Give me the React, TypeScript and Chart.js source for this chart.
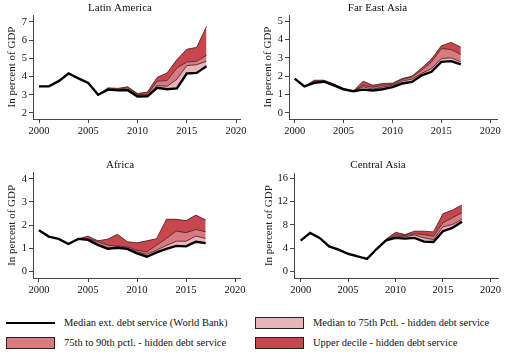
import React, { useEffect, useRef } from 'react';
import { Chart, registerables } from 'chart.js';

Chart.register(...registerables);
Chart.defaults.font.family = "'Liberation Serif', 'DejaVu Serif', serif";

// ---- data ----
const years = [2000, 2001, 2002, 2003, 2004, 2005, 2006, 2007, 2008, 2009, 2010, 2011, 2012, 2013, 2014, 2015, 2016, 2017];
const xTicks = [2000, 2005, 2010, 2015, 2020];

const latMedian = [3.46, 3.46, 3.75, 4.17, 3.9, 3.65, 3.0, 3.28, 3.24, 3.25, 2.9, 2.91, 3.38, 3.3, 3.35, 4.17, 4.2, 4.56];
const latP75 = [null, null, null, null, null, null, 3.0, 3.3, 3.27, 3.29, 2.96, 2.96, 3.5, 3.47, 3.85, 4.6, 4.65, 4.84];
const latP90 = [null, null, null, null, null, null, 3.0, 3.33, 3.3, 3.38, 3.02, 3.02, 3.75, 3.78, 4.47, 4.8, 4.84, 5.16];
const latTop = [null, null, null, null, null, null, 3.0, 3.38, 3.35, 3.44, 3.07, 3.15, 3.96, 4.2, 4.93, 5.5, 5.6, 6.75];
const latTicks = [2, 3, 4, 5, 6, 7];

const feaMedian = [1.87, 1.44, 1.64, 1.7, 1.5, 1.29, 1.18, 1.27, 1.22, 1.29, 1.4, 1.6, 1.69, 2.05, 2.24, 2.78, 2.82, 2.64];
const feaP75 = [null, 1.44, 1.68, 1.73, 1.53, 1.3, 1.18, 1.42, 1.3, 1.4, 1.5, 1.73, 1.84, 2.15, 2.42, 2.96, 3.0, 2.78];
const feaP90 = [null, 1.44, 1.72, 1.75, 1.55, 1.31, 1.18, 1.5, 1.4, 1.5, 1.56, 1.82, 1.95, 2.33, 2.78, 3.5, 3.45, 3.18];
const feaTop = [null, 1.44, 1.78, 1.78, 1.58, 1.32, 1.18, 1.73, 1.51, 1.6, 1.62, 1.87, 2.0, 2.45, 2.93, 3.65, 3.84, 3.58];
const feaTicks = [0, 1, 2, 3, 4, 5];

const afrMedian = [1.78, 1.5, 1.4, 1.18, 1.4, 1.36, 1.14, 0.97, 1.02, 0.97, 0.78, 0.63, 0.82, 0.97, 1.1, 1.08, 1.28, 1.22];
const afrP75 = [null, null, null, null, 1.4, 1.38, 1.17, 1.01, 1.05, 1.0, 0.84, 0.73, 0.92, 1.12, 1.3, 1.3, 1.52, 1.42];
const afrP90 = [null, null, null, null, 1.4, 1.4, 1.28, 1.13, 1.09, 1.06, 0.91, 0.84, 1.13, 1.42, 1.74, 1.67, 1.81, 1.71];
const afrTop = [null, null, null, null, 1.41, 1.52, 1.32, 1.39, 1.6, 1.28, 1.23, 1.32, 1.41, 2.25, 2.25, 2.19, 2.43, 2.22];
const afrTicks = [0, 1, 2, 3, 4];

const casMedian = [5.28, 6.6, 5.74, 4.29, 3.71, 3.01, 2.55, 2.14, 3.83, 5.33, 5.74, 5.62, 5.74, 5.1, 5.04, 6.9, 7.48, 8.52];
const casP75 = [null, null, null, null, null, null, null, null, null, 5.4, 6.03, 5.91, 6.26, 5.74, 5.45, 7.65, 8.06, 8.93];
const casP90 = [null, null, null, null, null, null, null, null, null, 5.45, 6.26, 6.14, 6.49, 6.32, 6.03, 8.35, 9.22, 10.09];
const casTop = [null, null, null, null, null, null, null, null, null, 5.5, 6.72, 6.32, 6.9, 6.9, 6.78, 9.91, 10.55, 11.42];
const casTicks = [0, 4, 8, 12, 16];

const legendLabels = [
  'Median ext. debt service (World Bank)',
  'Median to 75th Pctl. - hidden debt service',
  '75th to 90th pctl. - hidden debt service',
  'Upper decile - hidden debt service',
];

const LIGHT = '#e9b5b9';
const MID = '#d97a80';
const DARK = '#c8474e';
const EDGE = '#3b1517';

type PanelCfg = {
  title: string;
  median: (number | null)[];
  p75: (number | null)[];
  p90: (number | null)[];
  top: (number | null)[];
  yTicks: number[];
  yMin: number;
  yMax: number;
  xMin: number;
  xMax: number;
  left: number;
  top0: number;
  yWidth: number;
  rightPad: number;
  titleTop: number;
  titleBottom: number;
  xHeight: number;
  yTitlePad: number;
};

const pts = (arr: (number | null)[]) =>
  years.map((x, i) => ({ x, y: arr[i] })).filter((p) => p.y !== null) as { x: number; y: number }[];

function Panel({ cfg }: { cfg: PanelCfg }) {
  const ref = useRef<HTMLCanvasElement | null>(null);
  useEffect(() => {
    if (!ref.current) return;
    const tickFont = { size: 10.5 };
    const chart = new Chart(ref.current, {
      type: 'line',
      data: {
        datasets: [
          { label: legendLabels[0], data: pts(cfg.median), borderColor: '#000', borderWidth: 2.4, fill: false, pointRadius: 0 },
          { label: legendLabels[1], data: pts(cfg.p75), borderColor: EDGE, borderWidth: 0.8, backgroundColor: LIGHT, fill: '-1', pointRadius: 0 },
          { label: legendLabels[2], data: pts(cfg.p90), borderColor: EDGE, borderWidth: 0.8, backgroundColor: MID, fill: '-1', pointRadius: 0 },
          { label: legendLabels[3], data: pts(cfg.top), borderColor: EDGE, borderWidth: 0.8, backgroundColor: DARK, fill: '-1', pointRadius: 0 },
        ],
      },
      options: {
        animation: false,
        responsive: false,
        parsing: false as any,
        layout: { padding: { left: 0, right: cfg.rightPad, top: 0, bottom: 0 } },
        elements: { line: { tension: 0 }, point: { radius: 0 } },
        plugins: {
          legend: { display: false },
          tooltip: { enabled: false },
          title: {
            display: true,
            text: cfg.title,
            color: '#111',
            font: { size: 11, weight: 'normal' as any, lineHeight: 1.2 },
            padding: { top: cfg.titleTop, bottom: cfg.titleBottom },
          },
        },
        scales: {
          x: {
            type: 'linear',
            min: cfg.xMin,
            max: cfg.xMax,
            afterBuildTicks: (s: any) => {
              s.ticks = xTicks.map((v) => ({ value: v }));
            },
            afterFit: (s: any) => {
              s.height = cfg.xHeight;
            },
            grid: { display: true, drawOnChartArea: false, drawTicks: true, tickLength: 4, color: '#444', lineWidth: 1 },
            border: { display: true, color: '#444', width: 1 },
            ticks: { color: '#111', font: tickFont, padding: 2, maxRotation: 0, autoSkip: false, callback: (v: any) => String(v) },
          },
          y: {
            type: 'linear',
            min: cfg.yMin,
            max: cfg.yMax,
            afterBuildTicks: (s: any) => {
              s.ticks = cfg.yTicks.map((v) => ({ value: v }));
            },
            afterFit: (s: any) => {
              s.width = cfg.yWidth;
            },
            grid: { display: true, drawOnChartArea: false, drawTicks: true, tickLength: 4, color: '#444', lineWidth: 1 },
            border: { display: true, color: '#444', width: 1 },
            ticks: { color: '#111', font: tickFont, padding: 2, autoSkip: false, callback: (v: any) => String(v) },
            title: { display: true, text: 'In percent of GDP', color: '#222', font: { size: 11, lineHeight: 1.2 }, padding: cfg.yTitlePad },
          },
        },
      },
    });
    return () => chart.destroy();
  }, [cfg]);
  return (
    <canvas
      ref={ref}
      width={258}
      height={150}
      style={{ position: 'absolute', left: cfg.left, top: cfg.top0, width: 258, height: 150 }}
    />
  );
}

const panels: PanelCfg[] = [
  { title: 'Latin America', median: latMedian, p75: latP75, p90: latP90, top: latTop, yTicks: latTicks, yMin: 1.67, yMax: 7.38, xMin: 1999.39, xMax: 2020.4, left: 0, top0: 0, yWidth: 33, rightPad: 18, titleTop: 1.2, titleBottom: 0.6, xHeight: 31, yTitlePad: 6 },
  { title: 'Far East Asia', median: feaMedian, p75: feaP75, p90: feaP90, top: feaTop, yTicks: feaTicks, yMin: -0.33, yMax: 5.33, xMin: 1999.42, xMax: 2020.7, left: 258, top0: 0, yWidth: 31, rightPad: 19, titleTop: 1.2, titleBottom: 0.6, xHeight: 31, yTitlePad: 4 },
  { title: 'Africa', median: afrMedian, p75: afrP75, p90: afrP90, top: afrTop, yTicks: afrTicks, yMin: -0.29, yMax: 4.26, xMin: 1999.39, xMax: 2020.5, left: 0, top0: 150, yWidth: 33, rightPad: 18, titleTop: 8.4, titleBottom: 1.2, xHeight: 22, yTitlePad: 6 },
  { title: 'Central Asia', median: casMedian, p75: casP75, p90: casP90, top: casTop, yTicks: casTicks, yMin: -1.17, yMax: 16.9, xMin: 1999.3, xMax: 2020.8, left: 258, top0: 150, yWidth: 36, rightPad: 18, titleTop: 8.4, titleBottom: 1.6, xHeight: 22, yTitlePad: 5 },
];

const legendColors = [null, LIGHT, MID, DARK];
const legendPos = [
  { x: 6, y: 323 },
  { x: 255, y: 323 },
  { x: 6, y: 342.5 },
  { x: 255, y: 342.5 },
];

export default function App() {
  return (
    <div style={{ position: 'absolute', left: 0, top: 0, width: 516, height: 360, background: '#fff', overflow: 'hidden', fontFamily: "'Liberation Serif', serif" }}>
      {panels.map((p) => (
        <Panel key={p.title} cfg={p} />
      ))}
      {legendLabels.map((label, i) => {
        const pos = legendPos[i];
        const col = legendColors[i];
        return (
          <div key={label}>
            {col === null ? (
              <div style={{ position: 'absolute', left: pos.x, top: pos.y - 1.25, width: 49, height: 2.5, background: '#000' }} />
            ) : (
              <div style={{ position: 'absolute', left: pos.x, top: pos.y - 6, width: 47, height: 10, background: col, border: '1px solid #222' }} />
            )}
            <div style={{ position: 'absolute', left: pos.x + 58, top: pos.y - 7, fontSize: 10.5, lineHeight: '14px', color: '#111', whiteSpace: 'nowrap' }}>
              {label}
            </div>
          </div>
        );
      })}
    </div>
  );
}
